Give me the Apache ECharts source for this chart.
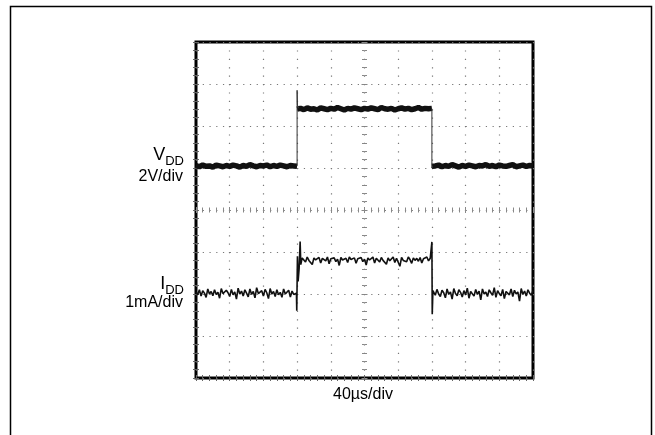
<!DOCTYPE html>
<html>
<head>
<meta charset="utf-8">
<script src="https://cdn.jsdelivr.net/npm/echarts@6/dist/echarts.min.js"></script>
<style>html,body{margin:0;padding:0;background:#fff}#c{width:655px;height:435px}</style>
</head>
<body>
<div id="c"></div>
<script>
// Screen divisions: 10 horizontal (40µs/div), 8 vertical
const xDivs = [0, 10];
const yDivs = [0, 8];

// VDD trace (divisions), sampled every 0.1 div
const vddStep = 0.1;
const vddLowA = [5.06,5.03,5.07,5.04,5.05,5.02,5.07,5.05,5.03,5.06,
                 5.04,5.07,5.05,5.02,5.06,5.04,5.08,5.05,5.03,5.06,
                 5.05,5.07,5.03,5.06,5.04,5.07,5.05,5.03,5.06,5.05,5.04]; // t = 0..3.0
const vddHigh = [6.40,6.42,6.39,6.43,6.40,6.41,6.38,6.43,6.41,6.39,6.42,
                 6.40,6.44,6.41,6.38,6.42,6.40,6.43,6.41,6.39,6.42,
                 6.40,6.43,6.41,6.39,6.44,6.41,6.40,6.42,6.38,6.41,
                 6.43,6.40,6.42,6.39,6.41,6.44,6.40,6.42,6.41,6.42]; // t = 3.0..7.0
const vddLowB = [5.04,5.05,5.07,5.03,5.06,5.04,5.08,5.05,5.02,5.06,5.04,
                 5.07,5.05,5.03,5.06,5.05,5.08,5.04,5.06,5.03,5.07,
                 5.05,5.04,5.06,5.08,5.03,5.05,5.07,5.04,5.06,5.05]; // t = 7.0..10.0
const vddRiseT = [3.0, 3.0, 3.01, 3.05];
const vddRiseV = [5.05, 6.85, 6.50, 6.42];
const vddFallT = [7.0, 7.0, 7.02];
const vddFallV = [6.41, 5.00, 5.05];

// IDD trace (divisions), sampled every 0.05 div
const iddStep = 0.05;
const iddLowA = [2.05,1.98,2.10,1.95,2.08,2.02,1.92,2.12,2.00,2.06,
                 1.96,2.10,1.99,2.04,1.90,2.13,2.01,1.97,2.09,2.03,
                 1.94,2.11,1.98,2.05,1.88,2.14,2.00,2.07,1.95,2.10,
                 2.02,1.93,2.12,1.99,2.06,1.91,2.15,2.01,1.97,2.08,
                 1.95,2.11,2.03,1.89,2.13,2.00,2.06,1.94,2.10,1.98,
                 2.04,1.92,2.12,2.00,1.96,2.09,1.93,2.07,1.99,2.02]; // t = 0..2.95
const iddRiseT = [2.98, 2.99, 3.01, 3.03, 3.06, 3.09, 3.11, 3.15];
const iddRiseV = [2.02, 1.60, 2.90, 2.30, 2.60, 3.25, 2.70, 2.86];
const iddHigh = [2.85,2.76,2.88,2.80,2.84,2.70,2.86,2.81,2.78,2.87,
                 2.74,2.85,2.82,2.79,2.88,2.72,2.84,2.80,2.86,2.77,
                 2.83,2.68,2.87,2.81,2.79,2.85,2.75,2.88,2.82,2.78,
                 2.86,2.73,2.84,2.80,2.87,2.77,2.83,2.69,2.86,2.81,
                 2.79,2.88,2.74,2.85,2.82,2.76,2.87,2.80,2.84,2.71,
                 2.86,2.79,2.83,2.88,2.75,2.85,2.81,2.66,2.87,2.80,
                 2.84,2.77,2.88,2.82,2.73,2.86,2.80,2.85,2.78,2.87,
                 2.74,2.84,2.81,2.88,2.79,2.85]; // t = 3.2..6.95
const iddFallT = [6.99, 7.0, 7.01, 7.03];
const iddFallV = [2.84, 3.24, 1.52, 2.08];
const iddLowB = [2.06,1.97,2.11,2.00,1.94,2.09,2.03,1.91,2.12,1.99,
                 2.05,1.88,2.13,2.01,1.96,2.10,2.04,1.93,2.08,1.98,
                 2.14,1.90,2.06,2.02,1.95,2.11,1.99,2.07,1.86,2.12,
                 2.00,2.05,1.94,2.10,2.03,1.97,2.15,1.92,2.08,2.01,
                 1.96,2.11,1.89,2.06,2.03,1.98,2.12,1.94,2.09,2.00,
                 2.05,1.83,2.13,1.99,2.07,1.95,2.10,2.02,1.97,2.08]; // t = 7.05..10.0

const labels = {
  vdd: '{v|V}{s|DD}', vddScale: '2V/div',
  idd: '{v|I}{s|DD}', iddScale: '1mA/div',
  time: '40µs/div'
};

function seg(t0, step, vals) { return vals.map((v, i) => [+(t0 + i * step).toFixed(3), v]); }
function pairs(ts, vs) { return ts.map((t, i) => [t, vs[i]]); }

const FONT = "'Liberation Sans', Arial, sans-serif";
const G = { left: 196, top: 42, width: 337, height: 336 };
const tickColor = '#666';
const dotColor = '#777';

function borderX(pos) {
  return {
    gridIndex: 0, type: 'value', min: xDivs[0], max: xDivs[1], interval: 1, position: pos,
    axisLine: { show: false }, axisLabel: { show: false },
    axisTick: { show: true, inside: true, length: 3, lineStyle: { color: tickColor } },
    minorTick: { show: true, splitNumber: 5, length: 3, lineStyle: { color: tickColor } },
    splitLine: { show: pos === 'bottom', lineStyle: { color: dotColor, width: 1.2, type: [1.2, 7.2] } }
  };
}
function borderY(pos) {
  return {
    gridIndex: 0, type: 'value', min: yDivs[0], max: yDivs[1], interval: 1, position: pos,
    axisLine: { show: false }, axisLabel: { show: false },
    axisTick: { show: true, inside: true, length: 3, lineStyle: { color: tickColor } },
    minorTick: { show: true, splitNumber: 5, length: 3, lineStyle: { color: tickColor } },
    splitLine: { show: pos === 'left', lineStyle: { color: dotColor, width: 1.2, type: [1.2, 5.54] } }
  };
}
function centerX(gi, pos) {
  return {
    gridIndex: gi, type: 'value', min: -5, max: 5, interval: 1, position: pos,
    axisLine: { show: false, onZero: true }, axisLabel: { show: false },
    axisTick: { show: true, inside: false, length: 3, lineStyle: { color: '#888' } },
    minorTick: { show: true, splitNumber: 5, length: 2.5, lineStyle: { color: '#888' } },
    splitLine: { show: false }
  };
}
function centerY(gi, pos) {
  return {
    gridIndex: gi, type: 'value', min: -4, max: 4, interval: 1, position: pos,
    axisLine: { show: false, onZero: true }, axisLabel: { show: false },
    axisTick: { show: true, inside: false, length: 3, lineStyle: { color: '#888' } },
    minorTick: { show: true, splitNumber: 5, length: 2.5, lineStyle: { color: '#888' } },
    splitLine: { show: false }
  };
}

const lineBase = { type: 'line', xAxisIndex: 0, yAxisIndex: 0, symbol: 'none', silent: true, animation: false };

const chart = echarts.init(document.getElementById('c'), null, { renderer: 'canvas' });
chart.setOption({
  backgroundColor: '#fff',
  animation: false,
  grid: [
    Object.assign({ show: true, borderColor: '#000', borderWidth: 3, backgroundColor: 'transparent' }, G),
    Object.assign({ show: false }, G),
    Object.assign({ show: false }, G)
  ],
  xAxis: [borderX('bottom'), borderX('top'), centerX(1, 'bottom'), centerX(2, 'top')],
  yAxis: [borderY('left'), borderY('right'), centerY(1, 'left'), centerY(2, 'right')],
  series: [
    Object.assign({}, lineBase, { name: 'VDD', data: seg(0, vddStep, vddLowA), lineStyle: { color: '#111', width: 5.5 } }),
    Object.assign({}, lineBase, { name: 'VDD', data: seg(3.0, vddStep, vddHigh), lineStyle: { color: '#111', width: 5.5 } }),
    Object.assign({}, lineBase, { name: 'VDD', data: seg(7.0, vddStep, vddLowB), lineStyle: { color: '#111', width: 5.5 } }),
    Object.assign({}, lineBase, { name: 'VDD edge', data: pairs(vddRiseT, vddRiseV), lineStyle: { color: '#333', width: 1 } }),
    Object.assign({}, lineBase, { name: 'VDD edge', data: pairs(vddFallT, vddFallV), lineStyle: { color: '#333', width: 1 } }),
    Object.assign({}, lineBase, {
      name: 'IDD',
      data: [].concat(seg(0, iddStep, iddLowA), pairs(iddRiseT, iddRiseV), seg(3.2, iddStep, iddHigh),
                      pairs(iddFallT, iddFallV), seg(7.05, iddStep, iddLowB)),
      lineStyle: { color: '#111', width: 1.6 }
    })
  ],
  graphic: [
    { type: 'rect', silent: true, shape: { x: 10.5, y: 6.5, width: 641, height: 500 },
      style: { fill: 'none', stroke: '#000', lineWidth: 1.5 } },
    { type: 'text', x: 184, y: 146, silent: true,
      style: { text: labels.vdd, align: 'right', verticalAlign: 'top', fill: '#000',
        rich: { v: { fontSize: 18, fontFamily: FONT, lineHeight: 14, verticalAlign: 'top', fill: '#000' },
                s: { fontSize: 13, fontFamily: FONT, lineHeight: 22, verticalAlign: 'bottom', fill: '#000' } } } },
    { type: 'text', x: 183, y: 177, silent: true,
      style: { text: labels.vddScale, align: 'right', verticalAlign: 'middle', fill: '#000', font: '16px ' + FONT } },
    { type: 'text', x: 184, y: 275, silent: true,
      style: { text: labels.idd, align: 'right', verticalAlign: 'top', fill: '#000',
        rich: { v: { fontSize: 18, fontFamily: FONT, lineHeight: 14, verticalAlign: 'top', fill: '#000' },
                s: { fontSize: 13, fontFamily: FONT, lineHeight: 22, verticalAlign: 'bottom', fill: '#000' } } } },
    { type: 'text', x: 183, y: 303, silent: true,
      style: { text: labels.iddScale, align: 'right', verticalAlign: 'middle', fill: '#000', font: '16px ' + FONT } },
    { type: 'text', x: 363, y: 395, silent: true,
      style: { text: labels.time, align: 'center', verticalAlign: 'middle', fill: '#000', font: '16px ' + FONT } }
  ]
});
</script>
</body>
</html>
